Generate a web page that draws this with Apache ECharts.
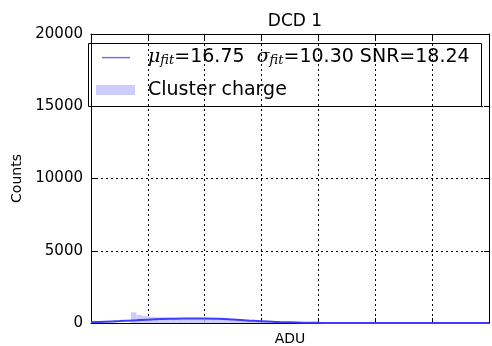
<!DOCTYPE html>
<html>
<head>
<meta charset="utf-8">
<script src="https://cdn.jsdelivr.net/npm/echarts@6/dist/echarts.min.js"></script>
<style>
  html, body { margin: 0; padding: 0; background: #fff; }
  #chart { width: 492px; height: 346px; }
</style>
</head>
<body>
<div id="chart"></div>
<script>
// histogram of cluster charge (bin centres in ADU, counts)
const binWidth = 2;
const binCenters = [-5, -3, -1, 1, 3, 5, 7, 9, 11, 13, 15, 17, 19, 21, 23, 25, 27, 29, 31, 33,
  35, 37, 39, 41, 43, 45, 47, 49, 51, 53, 55, 57, 59, 61, 63, 65, 67, 69];
const binCounts = [740, 560, 480, 440, 410, 390, 375, 360, 350, 340, 335, 330, 320, 310, 300, 285, 270, 255, 235, 215,
  195, 175, 155, 135, 115, 95, 80, 65, 52, 42, 32, 24, 18, 13, 9, 6, 4, 3];

// fitted curve
const fitX = [-20, -15, -10, -5, 0, 5, 10, 15, 20, 25, 30, 35, 40, 45, 50, 55, 60, 65, 70, 80, 90, 100, 110, 120];
const fitY = [50, 90, 130, 180, 230, 270, 300, 320, 315, 290, 240, 180, 120, 75, 45, 25, 12, 6, 3, 1, 0, 0, 0, 0];

const xTicks = { min: -20, max: 120, interval: 20 };
const yTicks = { min: 0, max: 20000, interval: 5000 };

const legendFit = 'fit';
const legendHist = 'Cluster charge';

const lineColor = '#3c3cff';
const histColor = '#ccccff';

const chart = echarts.init(document.getElementById('chart'));

const tickStyle = { show: true, inside: true, length: 5, lineStyle: { color: '#000', width: 1 } };
const gridLine = { show: true, lineStyle: { color: '#000', width: 1, type: [2, 3] } };
const frame = { show: true, onZero: false, lineStyle: { color: '#000', width: 1 } };

const option = {
  animation: false,
  backgroundColor: '#fff',
  textStyle: { fontFamily: 'DejaVu Sans' },
  title: {
    text: 'DCD 1',
    left: 290, top: 8, textAlign: 'center',
    textStyle: { fontSize: 17, fontWeight: 'normal', color: '#000', fontFamily: 'DejaVu Sans' }
  },
  grid: { left: 91, right: 3, top: 34, bottom: 23, outerBoundsMode: 'none', containLabel: false },
  xAxis: [
    {
      type: 'value', min: xTicks.min, max: xTicks.max, interval: xTicks.interval,
      name: 'ADU', nameLocation: 'middle', nameGap: 9,
      nameTextStyle: { fontSize: 14, color: '#000', verticalAlign: 'top' },
      axisLine: frame,
      axisTick: tickStyle, axisLabel: { show: false },
      splitLine: gridLine
    },
    {
      type: 'value', position: 'top', min: xTicks.min, max: xTicks.max, interval: xTicks.interval,
      axisLine: frame,
      axisTick: tickStyle, axisLabel: { show: false }, splitLine: { show: false }
    }
  ],
  yAxis: [
    {
      type: 'value', min: yTicks.min, max: yTicks.max, interval: yTicks.interval,
      name: 'Counts', nameLocation: 'middle', nameGap: 64, nameRotate: 90,
      nameTextStyle: { fontSize: 14, color: '#000' },
      axisLine: frame,
      axisTick: tickStyle,
      axisLabel: { fontSize: 15, color: '#000', margin: 8, formatter: v => String(v) },
      splitLine: gridLine
    },
    {
      type: 'value', position: 'right', min: yTicks.min, max: yTicks.max, interval: yTicks.interval,
      axisLine: frame,
      axisTick: tickStyle, axisLabel: { show: false }, splitLine: { show: false }
    }
  ],
  legend: {
    orient: 'vertical',
    left: 96, top: 48,
    itemWidth: 39, itemHeight: 10, itemGap: 13,
    padding: 0,
    data: [
      { name: legendFit, icon: 'path://M0,0 L0,0 M39,10 L39,10 M6,4.4 H34 V5.8 H6 Z', itemStyle: { color: '#6a6aff' } },
      { name: legendHist, icon: 'rect', itemStyle: { color: histColor } }
    ],
    formatter: function (name) {
      if (name === legendFit) {
        return '{m|μ}{s|fit}{n|=16.75  }{m|σ}{s|fit}{n|=10.30 SNR=18.24}';
      }
      return '{n|' + name + '}';
    },
    textStyle: {
      padding: [0, 0, 0, 8],
      rich: {
        n: { fontSize: 19, lineHeight: 22, color: '#000', fontFamily: 'DejaVu Sans' },
        m: { fontSize: 19, lineHeight: 22, color: '#000', fontFamily: 'DejaVu Serif', fontStyle: 'italic' },
        s: { fontSize: 13, color: '#000', fontFamily: 'DejaVu Serif', fontStyle: 'italic', padding: [7, 0, 0, 0] }
      }
    }
  },
  graphic: [
    {
      type: 'rect', left: 88, top: 43, z: 0,
      shape: { width: 393, height: 63 },
      style: { fill: '#fff', stroke: '#000', lineWidth: 1 }
    }
  ],
  series: [
    {
      name: legendHist,
      type: 'custom',
      xAxisIndex: 0, yAxisIndex: 0,
      data: binCenters.map((c, i) => [c, binCounts[i]]),
      encode: { x: 0, y: 1 },
      itemStyle: { color: histColor },
      renderItem: function (params, api) {
        const c = api.value(0);
        const p0 = api.coord([c - binWidth / 2, 0]);
        const p1 = api.coord([c + binWidth / 2, api.value(1)]);
        return {
          type: 'rect',
          shape: { x: p0[0], y: p1[1], width: p1[0] - p0[0], height: p0[1] - p1[1] },
          style: { fill: histColor }
        };
      }
    },
    {
      name: legendFit,
      type: 'line',
      xAxisIndex: 0, yAxisIndex: 0,
      data: fitX.map((x, i) => [x, fitY[i]]),
      smooth: true,
      symbol: 'none',
      lineStyle: { color: lineColor, width: 2 },
      itemStyle: { color: lineColor },
      z: 3
    }
  ]
};

chart.setOption(option);
</script>
</body>
</html>
